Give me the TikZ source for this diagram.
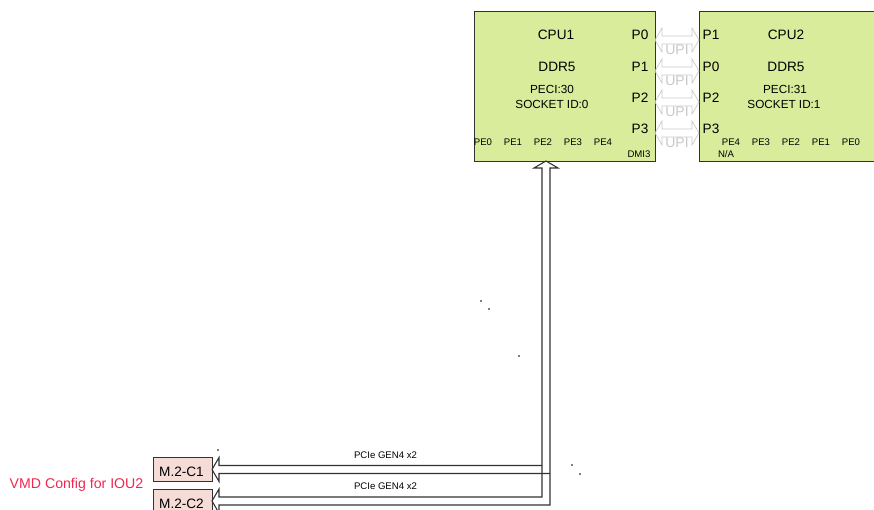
\documentclass[tikz,border=0pt]{standalone}
\usepackage{fontspec}
\setmainfont{Liberation Sans}
\usepackage{xcolor}
\usetikzlibrary{positioning}
\definecolor{cpugreen}{RGB}{216, 236, 156}
\definecolor{slotpink}{RGB}{245, 220, 215}
\definecolor{linedark}{RGB}{50, 50, 50}
\definecolor{upigrey}{RGB}{200, 200, 200}
\definecolor{vmdred}{RGB}{240, 40, 80}
\newcommand{\upilink}[2]{\draw[upi] (#1) -- ++(7,-12) -- ++(0,8) -- ++(30,0) -- ++(0,-8) -- (#2)
	-- ++(-7,12) -- ++(0,-8) -- ++(-30,0) -- ++(0,8) -- cycle;}

\begin{document}
\begin{tikzpicture}[x=0.75pt, y=-0.75pt,
		cpubox/.style={draw=linedark, fill=cpugreen, line width=0.75pt, inner sep=0pt, outer sep=0pt},
		slotbox/.style={draw=linedark, fill=slotpink, line width=0.75pt, inner sep=0pt, outer sep=0pt,
			minimum width=44.25pt, minimum height=18pt},
		bigtxt/.style={inner sep=0pt, font=\fontsize{10.2}{12}\selectfont},
		midtxt/.style={inner sep=0pt, font=\fontsize{8.8}{10}\selectfont},
		petxt/.style={inner sep=0pt, font=\fontsize{7.2}{8.5}\selectfont},
		upitxt/.style={inner sep=0pt, text=upigrey, font=\fontsize{10.5}{12}\selectfont},
		upi/.style={draw=upigrey, line width=0.5pt, line join=miter},
		bus/.style={draw=linedark, line width=0.8pt, line join=miter},
		speck/.style={fill=gray, inner sep=0pt, minimum size=0.9pt, shape=rectangle}
		]
		\clip (0,0) rectangle (874,510);
		\useasboundingbox (0,0) rectangle (874,510);

		% processors
		\node[cpubox, minimum width=135.75pt, minimum height=111.75pt] (cpu1) at (564.5, 86.5) {};
		\node[cpubox, minimum width=150pt, minimum height=111.75pt] (cpu2) at (799, 86.5) {};
		\node[bigtxt] (cpu1name) at (556, 35) {CPU1};
		\node[bigtxt] (cpu1ddr)  at (557, 67) {DDR5};
		\node[midtxt] (cpu1peci) at (552, 89) {PECI:30};
		\node[midtxt] (cpu1sock) at (552, 104) {SOCKET ID:0};
		\node[bigtxt] (cpu2name) at (786, 35) {CPU2};
		\node[bigtxt] (cpu2ddr)  at (786, 67) {DDR5};
		\node[midtxt] (cpu2peci) at (785, 89) {PECI:31};
		\node[midtxt] (cpu2sock) at (784, 104) {SOCKET ID:1};

		% ports
		\node[bigtxt] (cpu1p0) at (640, 35) {P0};
		\node[bigtxt] (cpu1p1) at (640, 67) {P1};
		\node[bigtxt] (cpu1p2) at (640, 98) {P2};
		\node[bigtxt] (cpu1p3) at (640, 129) {P3};
		\node[bigtxt] (cpu2p1) at (711, 35) {P1};
		\node[bigtxt] (cpu2p0) at (711, 67) {P0};
		\node[bigtxt] (cpu2p2) at (711, 98) {P2};
		\node[bigtxt] (cpu2p3) at (711, 129) {P3};
		\node[petxt] (cpu1pe0) at (483, 142) {PE0};
		\node[petxt] (cpu1pe1) at (513, 142) {PE1};
		\node[petxt] (cpu1pe2) at (543, 142) {PE2};
		\node[petxt] (cpu1pe3) at (573, 142) {PE3};
		\node[petxt] (cpu1pe4) at (603, 142) {PE4};
		\node[petxt] (cpu1dmi) at (639, 154) {DMI3};
		\node[petxt] (cpu2pe4) at (731, 142) {PE4};
		\node[petxt] (cpu2pe3) at (761, 142) {PE3};
		\node[petxt] (cpu2pe2) at (791, 142) {PE2};
		\node[petxt] (cpu2pe1) at (821, 142) {PE1};
		\node[petxt] (cpu2pe0) at (851, 142) {PE0};
		\node[petxt] (cpu2na)  at (726, 154) {N/A};

		% UPI links
		\coordinate (upi1a) at (655, 40);  \coordinate (upi1b) at (699, 40);
		\coordinate (upi2a) at (655, 71);  \coordinate (upi2b) at (699, 71);
		\coordinate (upi3a) at (655, 102); \coordinate (upi3b) at (699, 102);
		\coordinate (upi4a) at (655, 133); \coordinate (upi4b) at (699, 133);
		\upilink{upi1a}{upi1b}
		\upilink{upi2a}{upi2b}
		\upilink{upi3a}{upi3b}
		\upilink{upi4a}{upi4b}
		\node[upitxt] (upi1) at (677, 50) {UPI};
		\node[upitxt] (upi2) at (677, 81) {UPI};
		\node[upitxt] (upi3) at (677, 112) {UPI};
		\node[upitxt] (upi4) at (677, 143) {UPI};

		% M.2 slots
		\node[slotbox] (m2c1) at (182.5, 469.5) {};
		\node[slotbox] (m2c2) at (182.5, 501) {};
		\node[bigtxt] (m2c1txt) at (181.5, 472) {M.2-C1};
		\node[bigtxt] (m2c2txt) at (181.5, 504) {M.2-C2};
		\node[inner sep=0pt, text=vmdred, font=\fontsize{10.6}{13}\selectfont] (vmd) at (76.5, 485) {VMD Config for IOU2};

		% PCIe bus
		\coordinate (bustip) at (546, 161);
		\coordinate (busjoin) at (550, 473.5);
		\draw[bus] (m2c2.east) -- ++(7,-12) -- ++(0,8) -- (542, 497) -- (542, 168) -- (534, 168) -- (bustip)
			-- (558, 168) -- (550, 168) -- (550, 505) -- (219, 505) -- ++(0,8) -- cycle;
		\draw[bus] (m2c1.east) -- ++(7,-12) -- ++(0,8) -- (542, 465.5);
		\draw[bus] (m2c1.east) -- ++(7,12) -- ++(0,-8) -- (busjoin);
		\node[petxt] (pcie1) at (385.5, 455.5) {PCIe GEN4 x2};
		\node[petxt] (pcie2) at (385.5, 486.5) {PCIe GEN4 x2};

		% stray marks
		\node[speck] (sp1) at (572, 465) {};
		\node[speck] (sp2) at (580, 474) {};
		\node[speck] (sp3) at (481, 301) {};
		\node[speck] (sp4) at (489, 309) {};
		\node[speck] (sp5) at (519, 356) {};
		\node[speck] (sp6) at (218, 450) {};
	\end{tikzpicture}
\end{document}
